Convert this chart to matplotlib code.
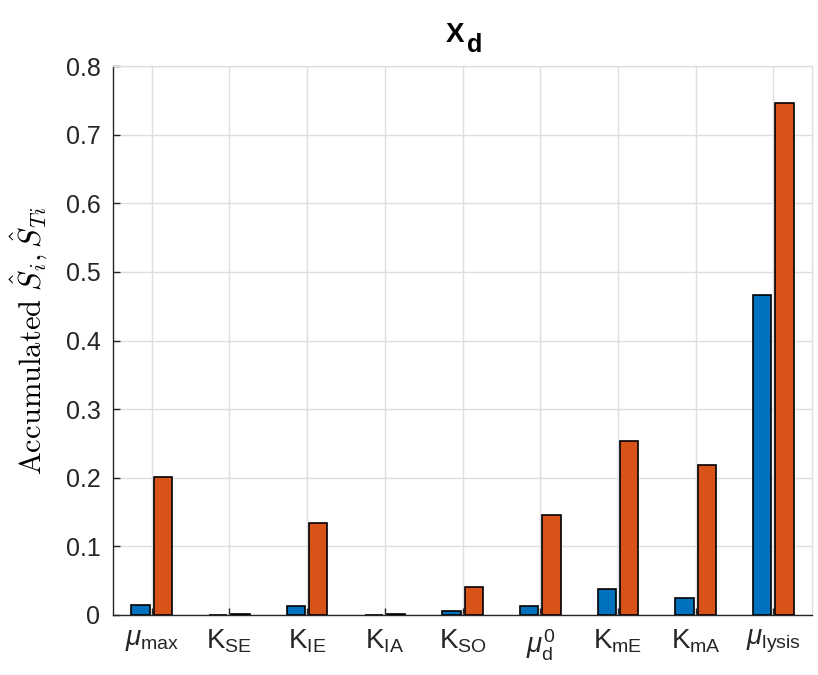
import numpy as np
import matplotlib
matplotlib.use("Agg")
import matplotlib.pyplot as plt

plt.rcParams["font.family"] = ["Liberation Sans", "DejaVu Sans"]
plt.rcParams["mathtext.fontset"] = "custom"
plt.rcParams["mathtext.rm"] = "Liberation Sans"
plt.rcParams["mathtext.it"] = "Liberation Sans:italic"
plt.rcParams["mathtext.bf"] = "Liberation Sans:bold"
plt.rcParams["mathtext.sf"] = "Liberation Sans"

# Parameter names and accumulated sensitivity indices
params = [r"$\mu_{\mathrm{max}}$", r"$\mathrm{K}_{\mathrm{SE}}$", r"$\mathrm{K}_{\mathrm{IE}}$",
          r"$\mathrm{K}_{\mathrm{IA}}$", r"$\mathrm{K}_{\mathrm{SO}}$", r"$\mu_{\mathrm{d}}^{0}$",
          r"$\mathrm{K}_{\mathrm{mE}}$", r"$\mathrm{K}_{\mathrm{mA}}$", r"$\mu_{\mathrm{lysis}}$"]
first_order = [0.015, 0.0005, 0.013, 0.0005, 0.005, 0.013, 0.038, 0.025, 0.467]
total_order = [0.201, 0.0008, 0.134, 0.002, 0.041, 0.146, 0.254, 0.219, 0.746]
yticks = [0, 0.1, 0.2, 0.3, 0.4, 0.5, 0.6, 0.7, 0.8]
ytick_labels = ["0", "0.1", "0.2", "0.3", "0.4", "0.5", "0.6", "0.7", "0.8"]
title_main, title_sub = "X", "d"

W, H = 818, 675
fig = plt.figure(figsize=(W / 100, H / 100), dpi=100)
ax = fig.add_axes([0.138, 0.089, 0.855, 0.813])

x = np.arange(1, len(params) + 1)
w = 0.235
off = 0.143
ax.bar(x - off, first_order, width=w, color="#0072BD", edgecolor="black", linewidth=1.2, zorder=3)
ax.bar(x + off, total_order, width=w, color="#D95319", edgecolor="black", linewidth=1.2, zorder=3)

ax.set_xlim(0.5, len(params) + 0.5)
ax.set_ylim(0, 0.8)
ax.set_xticks(x)
ax.set_xticklabels(params, fontsize=20)
ax.set_yticks(yticks)
ax.set_yticklabels(ytick_labels, fontsize=18)
ax.grid(True, color="#dedede", linewidth=1.0, zorder=0)
ax.set_axisbelow(True)
ax.tick_params(direction="in", length=5, width=1.0, colors="#262626", labelcolor="#262626")
ax.tick_params(axis="x", pad=9)
ax.tick_params(axis="y", pad=9)
for name, s in ax.spines.items():
    s.set_linewidth(1.0)
    s.set_color("#262626" if name in ("left", "bottom") else "#dedede")

ax.set_ylabel(r"$\mathrm{Accumulated}\ \hat{S}_i, \hat{S}_{Ti}$", fontsize=22,
              math_fontfamily="cm", labelpad=11)

# Title with a large, low subscript
fig.text(446 / W, 1 - 42 / H, title_main, fontsize=20, fontweight="bold",
         ha="left", va="baseline", color="black")
fig.text(467 / W, 1 - 52 / H, title_sub, fontsize=18, fontweight="bold",
         ha="left", va="baseline", color="black")

fig.savefig("out.png", dpi=100)
